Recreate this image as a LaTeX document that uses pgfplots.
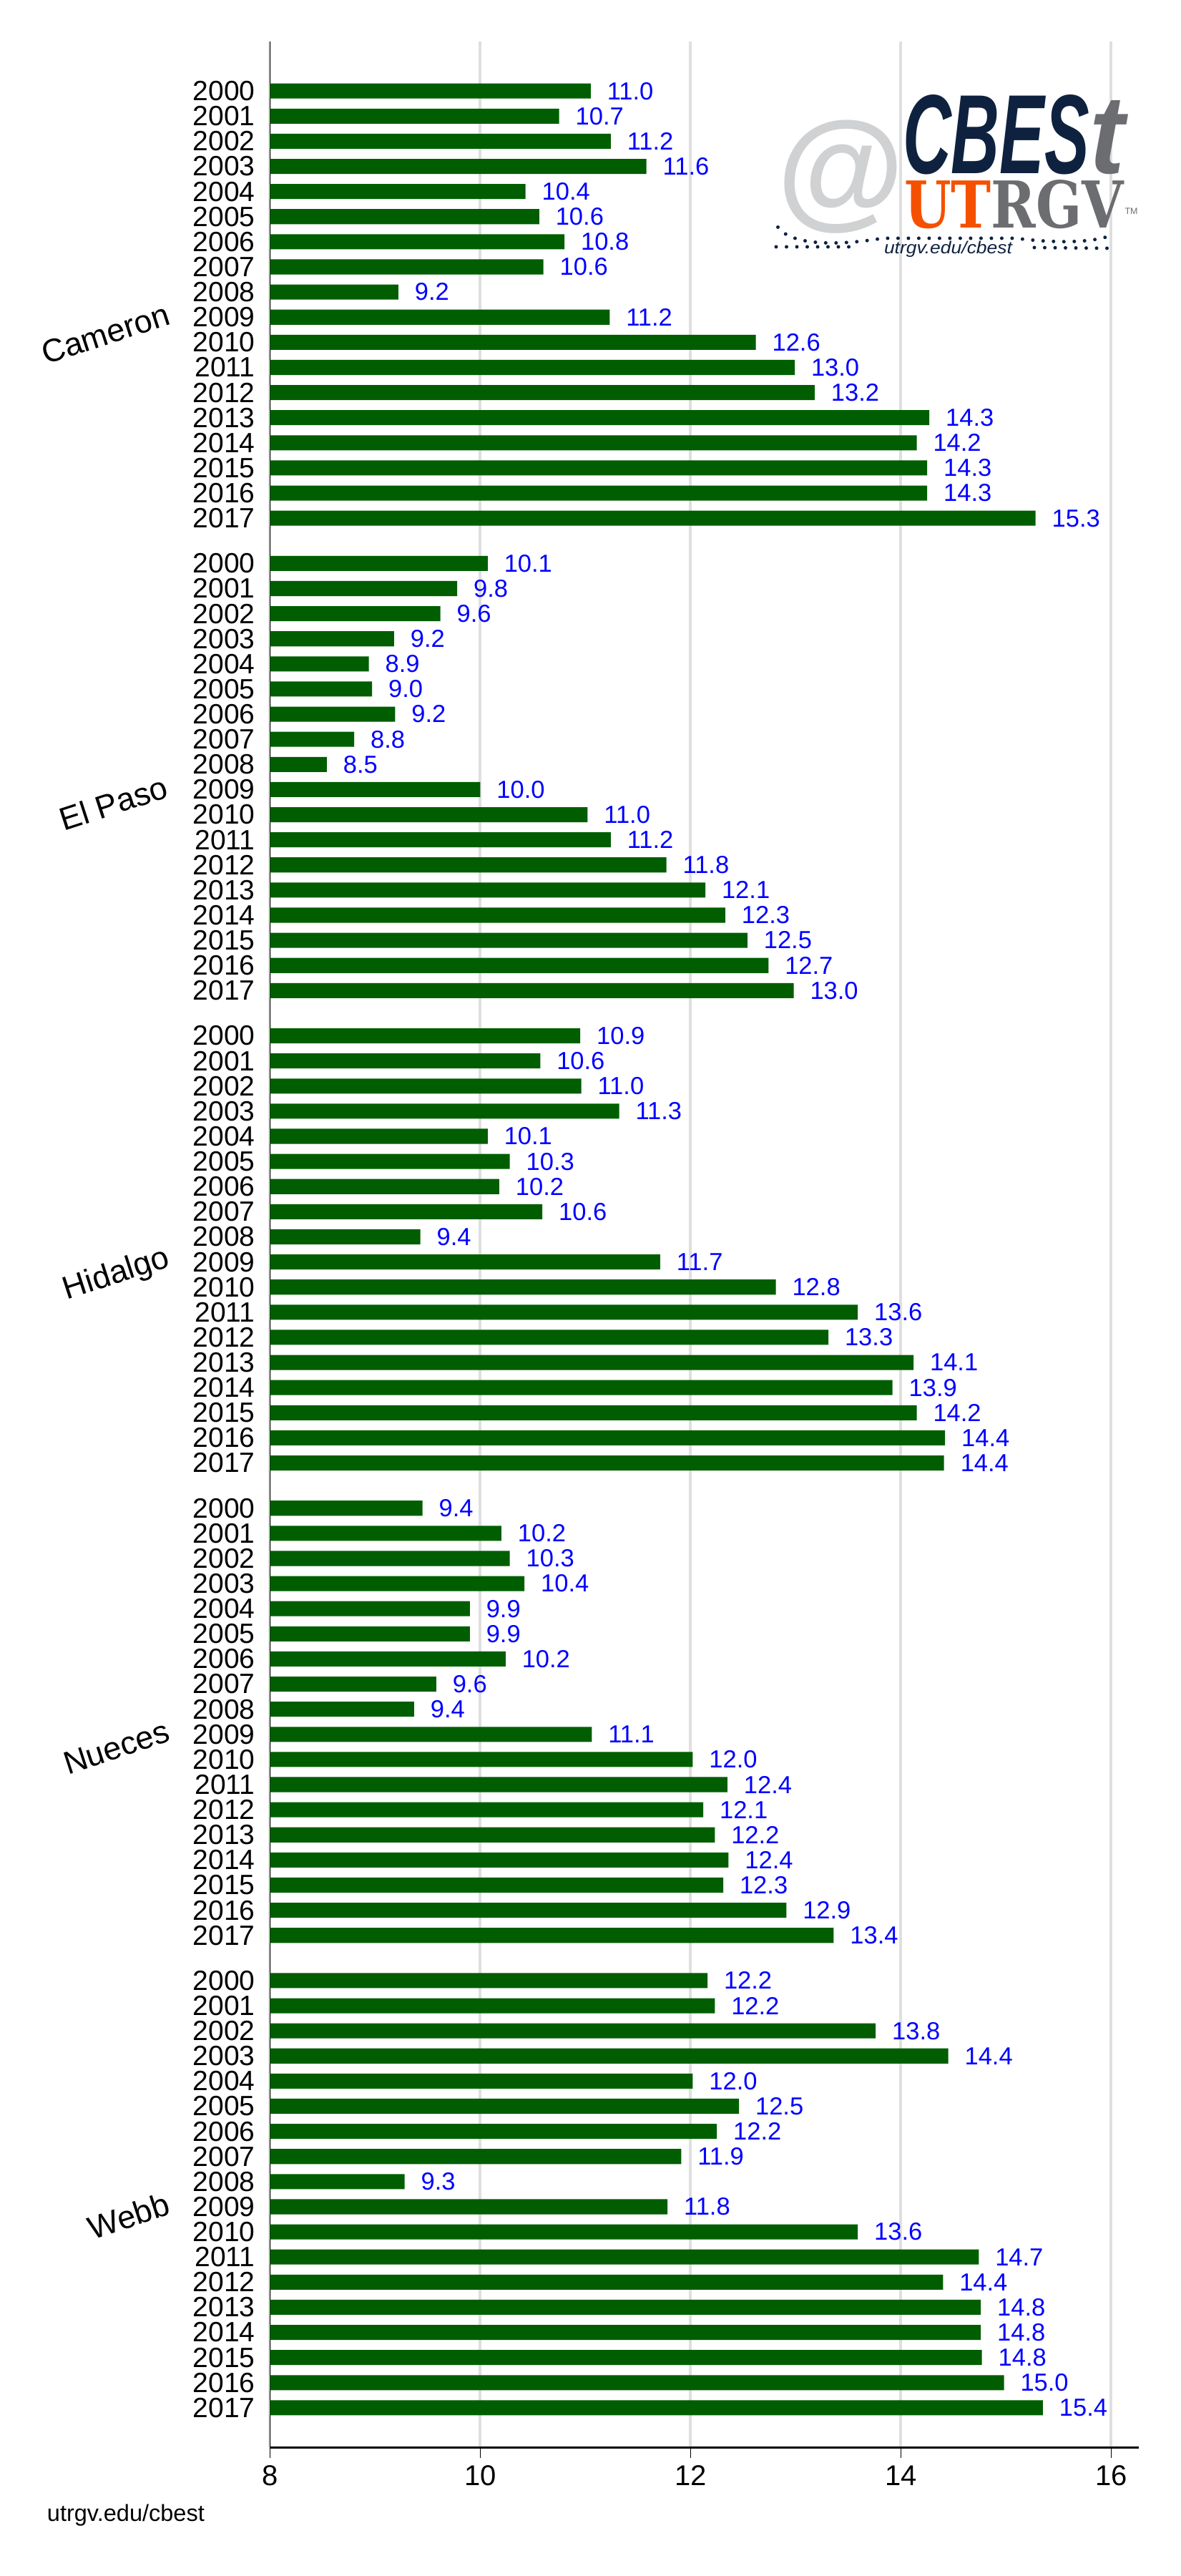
\documentclass[border=0pt]{standalone}
\usepackage{pgfplots}
\pgfplotsset{compat=1.18}
\usepackage{pgfplotstable}
\usepackage{graphicx}
\usepackage{fontspec}
\setmainfont{Liberation Sans}
\newfontfamily\slabfont{DejaVu Serif}

\definecolor{bargreen}{RGB}{0,94,0}
\definecolor{navy}{RGB}{14,34,64}
\definecolor{logogray}{RGB}{108,109,112}
\definecolor{atgray}{RGB}{208,209,211}
\definecolor{utorange}{RGB}{245,80,0}

% y = year, v = bar length, l = printed label
\pgfplotstableread{
y v l
2000 11.05 11.0
2001 10.75 10.7
2002 11.24 11.2
2003 11.58 11.6
2004 10.43 10.4
2005 10.56 10.6
2006 10.80 10.8
2007 10.60 10.6
2008 9.22 9.2
2009 11.23 11.2
2010 12.62 12.6
2011 12.99 13.0
2012 13.18 13.2
2013 14.27 14.3
2014 14.15 14.2
2015 14.25 14.3
2016 14.25 14.3
2017 15.28 15.3
}\cameron
\pgfplotstableread{
y v l
2000 10.07 10.1
2001 9.78 9.8
2002 9.62 9.6
2003 9.18 9.2
2004 8.94 8.9
2005 8.97 9.0
2006 9.19 9.2
2007 8.80 8.8
2008 8.54 8.5
2009 10.00 10.0
2010 11.02 11.0
2011 11.24 11.2
2012 11.77 11.8
2013 12.14 12.1
2014 12.33 12.3
2015 12.54 12.5
2016 12.74 12.7
2017 12.98 13.0
}\elpaso
\pgfplotstableread{
y v l
2000 10.95 10.9
2001 10.57 10.6
2002 10.96 11.0
2003 11.32 11.3
2004 10.07 10.1
2005 10.28 10.3
2006 10.18 10.2
2007 10.59 10.6
2008 9.43 9.4
2009 11.71 11.7
2010 12.81 12.8
2011 13.59 13.6
2012 13.31 13.3
2013 14.12 14.1
2014 13.92 13.9
2015 14.15 14.2
2016 14.42 14.4
2017 14.41 14.4
}\hidalgo
\pgfplotstableread{
y v l
2000 9.45 9.4
2001 10.20 10.2
2002 10.28 10.3
2003 10.42 10.4
2004 9.90 9.9
2005 9.90 9.9
2006 10.24 10.2
2007 9.58 9.6
2008 9.37 9.4
2009 11.06 11.1
2010 12.02 12.0
2011 12.35 12.4
2012 12.12 12.1
2013 12.23 12.2
2014 12.36 12.4
2015 12.31 12.3
2016 12.91 12.9
2017 13.36 13.4
}\nueces
\pgfplotstableread{
y v l
2000 12.16 12.2
2001 12.23 12.2
2002 13.76 13.8
2003 14.45 14.4
2004 12.02 12.0
2005 12.46 12.5
2006 12.25 12.2
2007 11.91 11.9
2008 9.28 9.3
2009 11.78 11.8
2010 13.59 13.6
2011 14.74 14.7
2012 14.40 14.4
2013 14.76 14.8
2014 14.76 14.8
2015 14.77 14.8
2016 14.98 15.0
2017 15.35 15.4
}\webb

\begin{document}
\begin{tikzpicture}
\path[use as bounding box] (-75.5pt,-36pt) rectangle (254.5pt,684pt);
\begin{axis}[
  scale only axis, width=242.9pt, height=672.4pt,
  xmin=8, xmax=16.262, ymin=-9.85, ymax=468.85, y dir=reverse,
  clip mode=individual,
  axis x line=bottom, axis y line=left, axis line style={-},
  x axis line style={line width=0.6pt},
  y axis line style={line width=0.35pt},
  xtick={8,10,...,16}, tick align=outside, major tick length=3pt,
  xtick style={black, line width=0.35pt},
  ytick={0,5,...,85,94,99,...,179,188,193,...,273,282,287,...,367,376,381,...,461},
  ytick style={draw=none},
  yticklabel={\pgfmathtruncatemacro\yr{2000+round(mod(round(\tick),94)/5)}\yr},
  yticklabel style={font=\fontsize{7.8}{9}\selectfont, inner sep=0pt, xshift=-1pt},
  xticklabel style={font=\fontsize{8}{9}\selectfont, inner sep=0pt, yshift=-2pt},
  /pgf/number format/assume math mode=true,
  xmajorgrids, grid style={gray!25, line width=0.8pt},
  point meta=explicit,
  nodes near coords={\pgfmathprintnumber[fixed,fixed zerofill,precision=1]{\pgfplotspointmeta}},
  every node near coord/.append style={text=blue, font=\fontsize{6.9}{8}\selectfont,
    anchor=west, inner sep=0pt, xshift=4.4pt},
  gbar/.style={xbar, bar shift=0pt, bar width=3, fill=bargreen, draw=none},
]
\addplot[gbar] table[x=v, y expr={5*(\thisrow{y}-2000)}, meta=l] {\cameron};
\addplot[gbar] table[x=v, y expr={5*(\thisrow{y}-2000)+94}, meta=l] {\elpaso};
\addplot[gbar] table[x=v, y expr={5*(\thisrow{y}-2000)+188}, meta=l] {\hidalgo};
\addplot[gbar] table[x=v, y expr={5*(\thisrow{y}-2000)+282}, meta=l] {\nueces};
\addplot[gbar] table[x=v, y expr={5*(\thisrow{y}-2000)+376}, meta=l] {\webb};

\node[rotate=18, anchor=east, inner sep=0pt, font=\fontsize{9}{10}\selectfont] at (axis cs:7.04,44.2) {Cameron};
\node[rotate=18, anchor=east, inner sep=0pt, font=\fontsize{9}{10}\selectfont] at (axis cs:7.02,138.2) {El Paso};
\node[rotate=18, anchor=east, inner sep=0pt, font=\fontsize{9}{10}\selectfont] at (axis cs:7.04,232.2) {Hidalgo};
\node[rotate=18, anchor=east, inner sep=0pt, font=\fontsize{9}{10}\selectfont] at (axis cs:7.04,326.2) {Nueces};
\node[rotate=18, anchor=east, inner sep=0pt, font=\fontsize{9}{10}\selectfont] at (axis cs:7.04,420.2) {Webb};
\end{axis}

% footer
\node[anchor=base west, inner sep=0pt, font=\fontsize{6.5}{7}\selectfont] at (-62.5pt,-20.6pt) {utrgv.edu/cbest};

% logo
\node[inner sep=0pt, text=atgray] at (159.5pt,634.6pt) {\resizebox{35.6pt}{!}{\bfseries @}};
\node[anchor=south west, inner sep=0pt, text=navy] at (176.7pt,635pt) {\resizebox{52.2pt}{22pt}{\bfseries\itshape CBES}};
\node[anchor=south west, inner sep=0pt, text=logogray] at (229pt,635pt) {\resizebox{9.8pt}{20.4pt}{\bfseries\itshape t}};
\node[anchor=south west, inner sep=0pt] at (177.1pt,619.8pt) {\resizebox{61.4pt}{13.4pt}{\slabfont\bfseries\textcolor{utorange}{UT}\textcolor{logogray}{RGV}}};
\node[anchor=base west, inner sep=0pt, text=logogray, font=\fontsize{2.5}{3}\selectfont] at (238.8pt,624pt) {TM};
\node[anchor=base west, inner sep=0pt, text=navy] at (171.5pt,613pt) {\resizebox{35.8pt}{3.5pt}{\itshape utrgv.edu/cbest}};
\draw[navy, line width=1pt, line cap=round, dash pattern=on 0pt off 2.9pt]
  (142pt,620.5pt) .. controls (146pt,615pt) and (160pt,615.5pt) .. (171.3pt,617.4pt) -- (208.3pt,617.4pt)
  .. controls (220pt,616pt) and (230pt,616pt) .. (236pt,618.5pt);
\draw[navy, line width=1pt, line cap=round, dash pattern=on 0pt off 2.9pt]
  (141.5pt,615pt) -- (163.5pt,615pt);
\draw[navy, line width=1pt, line cap=round, dash pattern=on 0pt off 2.9pt]
  (213.7pt,614.8pt) -- (235.3pt,614.6pt);
\end{tikzpicture}
\end{document}
